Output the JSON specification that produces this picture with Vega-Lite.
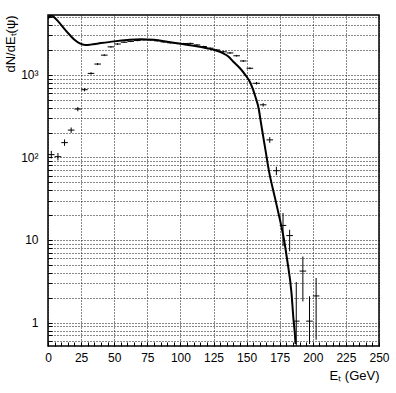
{
  "$schema": "https://vega.github.io/schema/vega-lite/v6.json",
  "width": 331,
  "height": 331,
  "autosize": {"type": "none"},
  "padding": {"left": 48, "top": 15, "right": 17, "bottom": 47},
  "background": "white",
  "config": {
    "view": {"stroke": "black", "strokeWidth": 1.5},
    "font": "Liberation Sans",
    "axis": {"labelFont": "Liberation Sans", "titleFont": "Liberation Sans", "labelColor": "black", "titleColor": "black", "labelFontSize": 12, "titleFontSize": 13, "titleFontWeight": "normal", "labelOverlap": false, "labelFlush": false, "labelBound": false, "grid": true, "gridColor": "#111", "gridDash": [1, 2], "gridWidth": 1, "tickSize": -4, "tickColor": "black", "domain": false},
    "axisX": {"labelPadding": 10, "titleAlign": "right", "titleAnchor": "end", "titleX": 331, "titleY": 33, "titleBaseline": "alphabetic"},
    "axisY": {"labelPadding": 14, "titleAngle": -90, "titleAlign": "right", "titleBaseline": "middle", "titleX": -38, "titleY": 0}
  },
  "datasets": {
    "curve": [
      {"et": 0, "dn": 4800}, {"et": 1.5, "dn": 5150}, {"et": 3, "dn": 5200}, {"et": 5, "dn": 4900},
      {"et": 9, "dn": 4200}, {"et": 13, "dn": 3500}, {"et": 16.5, "dn": 3030}, {"et": 20, "dn": 2650},
      {"et": 24, "dn": 2400}, {"et": 28, "dn": 2300}, {"et": 32, "dn": 2320}, {"et": 40, "dn": 2420},
      {"et": 50, "dn": 2540}, {"et": 60, "dn": 2640}, {"et": 70, "dn": 2700}, {"et": 80, "dn": 2650},
      {"et": 90, "dn": 2520}, {"et": 100, "dn": 2380}, {"et": 110, "dn": 2250}, {"et": 120, "dn": 2100},
      {"et": 127, "dn": 1970}, {"et": 132, "dn": 1830}, {"et": 136, "dn": 1680}, {"et": 140, "dn": 1440},
      {"et": 145, "dn": 1200}, {"et": 149, "dn": 1000}, {"et": 153, "dn": 790}, {"et": 156.6, "dn": 545},
      {"et": 159.3, "dn": 377}, {"et": 160.4, "dn": 290}, {"et": 161.7, "dn": 216}, {"et": 164.2, "dn": 124},
      {"et": 166.7, "dn": 71}, {"et": 171.7, "dn": 31}, {"et": 176.8, "dn": 13.3}, {"et": 178.3, "dn": 10},
      {"et": 180.6, "dn": 5.8}, {"et": 183.9, "dn": 2.29}, {"et": 185.4, "dn": 1.1}, {"et": 186.4, "dn": 0.75},
      {"et": 187, "dn": 0.55}
    ],
    "pts": [
      {"et": 2.5, "blo": 0, "bhi": 5, "n": 108, "lo": 97, "hi": 120},
      {"et": 7.5, "blo": 5, "bhi": 10, "n": 102, "lo": 92, "hi": 113},
      {"et": 12.5, "blo": 10, "bhi": 15, "n": 151, "lo": 138, "hi": 165},
      {"et": 17.5, "blo": 15, "bhi": 20, "n": 214, "lo": 198, "hi": 230},
      {"et": 22.5, "blo": 20, "bhi": 25, "n": 385, "lo": 362, "hi": 408},
      {"et": 27.5, "blo": 25, "bhi": 30, "n": 660, "lo": 630, "hi": 690},
      {"et": 32.5, "blo": 30, "bhi": 35, "n": 1040, "lo": 1005, "hi": 1075},
      {"et": 37.5, "blo": 35, "bhi": 40, "n": 1350, "lo": 1310, "hi": 1390},
      {"et": 42.5, "blo": 40, "bhi": 45, "n": 1730, "lo": 1685, "hi": 1775},
      {"et": 47.5, "blo": 45, "bhi": 50, "n": 2180, "lo": 2130, "hi": 2230},
      {"et": 52.5, "blo": 50, "bhi": 55, "n": 2360, "lo": 2310, "hi": 2410},
      {"et": 57.5, "blo": 55, "bhi": 60, "n": 2480, "lo": 2430, "hi": 2530},
      {"et": 62.5, "blo": 60, "bhi": 65, "n": 2540, "lo": 2490, "hi": 2590},
      {"et": 67.5, "blo": 65, "bhi": 70, "n": 2600, "lo": 2550, "hi": 2650},
      {"et": 72.5, "blo": 70, "bhi": 75, "n": 2650, "lo": 2600, "hi": 2700},
      {"et": 77.5, "blo": 75, "bhi": 80, "n": 2640, "lo": 2590, "hi": 2690},
      {"et": 82.5, "blo": 80, "bhi": 85, "n": 2580, "lo": 2530, "hi": 2630},
      {"et": 87.5, "blo": 85, "bhi": 90, "n": 2500, "lo": 2450, "hi": 2550},
      {"et": 92.5, "blo": 90, "bhi": 95, "n": 2440, "lo": 2390, "hi": 2490},
      {"et": 97.5, "blo": 95, "bhi": 100, "n": 2400, "lo": 2350, "hi": 2450},
      {"et": 102.5, "blo": 100, "bhi": 105, "n": 2390, "lo": 2340, "hi": 2440},
      {"et": 107.5, "blo": 105, "bhi": 110, "n": 2400, "lo": 2350, "hi": 2450},
      {"et": 112.5, "blo": 110, "bhi": 115, "n": 2300, "lo": 2250, "hi": 2350},
      {"et": 117.5, "blo": 115, "bhi": 120, "n": 2200, "lo": 2150, "hi": 2250},
      {"et": 122.5, "blo": 120, "bhi": 125, "n": 2100, "lo": 2055, "hi": 2145},
      {"et": 127.5, "blo": 125, "bhi": 130, "n": 2000, "lo": 1955, "hi": 2045},
      {"et": 132.5, "blo": 130, "bhi": 135, "n": 1900, "lo": 1855, "hi": 1945},
      {"et": 137.5, "blo": 135, "bhi": 140, "n": 1840, "lo": 1797, "hi": 1883},
      {"et": 142.5, "blo": 140, "bhi": 145, "n": 1700, "lo": 1659, "hi": 1741},
      {"et": 147.5, "blo": 145, "bhi": 150, "n": 1470, "lo": 1432, "hi": 1508},
      {"et": 152.5, "blo": 150, "bhi": 155, "n": 1200, "lo": 1165, "hi": 1235},
      {"et": 157.5, "blo": 155, "bhi": 160, "n": 790, "lo": 762, "hi": 818},
      {"et": 162.5, "blo": 160, "bhi": 165, "n": 433, "lo": 412, "hi": 454},
      {"et": 167.5, "blo": 165, "bhi": 170, "n": 163, "lo": 150, "hi": 176},
      {"et": 172.5, "blo": 170, "bhi": 175, "n": 69, "lo": 61, "hi": 77},
      {"et": 177.5, "blo": 175, "bhi": 180, "n": 15, "lo": 8.4, "hi": 21.2},
      {"et": 182.5, "blo": 180, "bhi": 185, "n": 11.3, "lo": 7.3, "hi": 13.3},
      {"et": 187.5, "blo": 185, "bhi": 190, "n": 1.04, "lo": 0.4, "hi": 3.1},
      {"et": 192.5, "blo": 190, "bhi": 195, "n": 4.2, "lo": 1.8, "hi": 6.3},
      {"et": 197.5, "blo": 195, "bhi": 200, "n": 1.04, "lo": 0.55, "hi": 2.08},
      {"et": 202.5, "blo": 200, "bhi": 205, "n": 2.1, "lo": 0.62, "hi": 3.47}
    ]
  },
  "layer": [
    {
      "data": {"name": "curve"},
      "mark": {"type": "line", "color": "black", "strokeWidth": 2, "clip": true, "interpolate": "monotone"},
      "encoding": {
        "x": {
          "field": "et", "type": "quantitative",
          "scale": {"domain": [0, 250], "nice": false, "zero": false},
          "axis": {
            "title": "Eₜ (GeV)",
            "values": [0,5,10,15,20,25,30,35,40,45,50,55,60,65,70,75,80,85,90,95,100,105,110,115,120,125,130,135,140,145,150,155,160,165,170,175,180,185,190,195,200,205,210,215,220,225,230,235,240,245,250],
            "tickCount": 200,
            "labelExpr": "datum.value % 25 === 0 ? datum.label : ''",
            "labelOverlap": false,
            "gridOpacity": {"condition": {"test": "datum.value % 25 === 0", "value": 1}, "value": 0}
          }
        },
        "y": {
          "field": "dn", "type": "quantitative",
          "scale": {"type": "log", "domain": [0.52, 5300], "nice": false},
          "axis": {
            "title": "dN/dEₜ(ψ)",
            "values": [0.6,0.7,0.8,0.9,1,2,3,4,5,6,7,8,9,10,20,30,40,50,60,70,80,90,100,200,300,400,500,600,700,800,900,1000,2000,3000,4000,5000],
            "tickCount": 200,
            "labelExpr": "datum.value === 1 ? '1' : datum.value === 10 ? '10' : datum.value === 100 ? '10²' : datum.value === 1000 ? '10³' : ''",
            "labelOverlap": false
          }
        }
      }
    },
    {
      "data": {"name": "pts"},
      "mark": {"type": "rule", "color": "black", "strokeWidth": 1, "clip": true},
      "encoding": {
        "x": {"field": "blo", "type": "quantitative"},
        "x2": {"field": "bhi"},
        "y": {"field": "n", "type": "quantitative"}
      }
    },
    {
      "data": {"name": "pts"},
      "mark": {"type": "rule", "color": "black", "strokeWidth": 1, "clip": true},
      "encoding": {
        "x": {"field": "et", "type": "quantitative"},
        "y": {"field": "lo", "type": "quantitative"},
        "y2": {"field": "hi"}
      }
    }
  ]
}
